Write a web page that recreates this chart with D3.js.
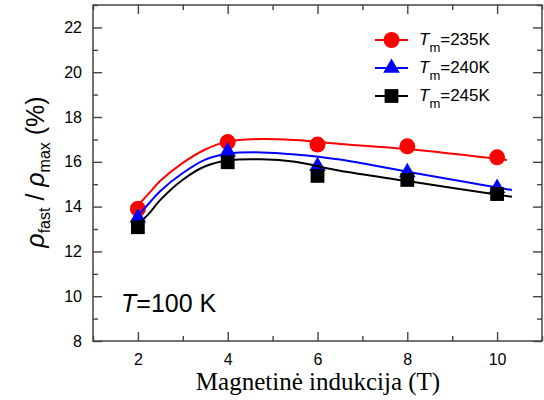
<!DOCTYPE html>
<html>
<head>
<meta charset="utf-8">
<script src="https://cdn.jsdelivr.net/npm/d3@7"></script>
<style>
  html, body { margin: 0; padding: 0; background: #fff; }
  svg { display: block; }
  text { font-family: "Liberation Sans", Arial, sans-serif; fill: #000; }
</style>
</head>
<body>
<svg id="chart" width="544" height="400"></svg>
<script>
// Measured points: field (T) vs fast-component share (%)
const fields = [2, 4, 6, 8, 10];
const rho235 = [13.9, 16.88, 16.77, 16.69, 16.2];
const rho240 = [13.5, 16.45, 15.8, 15.53, 14.82];
const rho245 = [13.08, 15.98, 15.37, 15.19, 14.56];

// Fitted curves, sampled along the field axis
const fit235B = [2, 2.25, 2.5, 3, 3.5, 4, 4.75, 5.5, 6.5, 8, 10.22];
const fit235 = [14.05, 14.6, 15.15, 15.95, 16.55, 16.9, 17.02, 16.97, 16.8, 16.57, 16.08];
const fit240B = [2, 2.25, 2.5, 3, 3.5, 4, 4.75, 5.5, 6.5, 8, 10.33];
const fit240 = [13.6, 14.15, 14.7, 15.5, 16.1, 16.36, 16.42, 16.33, 16.1, 15.56, 14.74];
const fit245B = [2, 2.25, 2.5, 3, 3.5, 4, 4.75, 5.5, 6.5, 8, 10.33];
const fit245 = [13.2, 13.7, 14.3, 15.2, 15.8, 16.06, 16.11, 16.0, 15.6, 15.14, 14.44];

const seriesNames = ["235K", "240K", "245K"];
const xMajor = [2, 4, 6, 8, 10];
const xMinor = [1, 3, 5, 7, 9, 11];
const yMajor = [8, 10, 12, 14, 16, 18, 20, 22];
const yMinor = [9, 11, 13, 15, 17, 19, 21, 23];

const svg = d3.select("#chart");
const x = d3.scaleLinear().domain([1, 11]).range([93, 542]);
const y = d3.scaleLinear().domain([8, 23]).range([341, 5]);

const axisColor = "#444";

function styleAxis(g) {
  g.select(".domain").remove();
  g.selectAll(".tick line").attr("stroke", axisColor).attr("stroke-width", 1.4);
  g.selectAll(".tick text").style("font-size", "16px").attr("fill", "#000");
}

// bottom
svg.append("g").attr("transform", `translate(0,${y(8)})`)
  .call(d3.axisBottom(x).tickValues(xMajor).tickSize(-9).tickPadding(13).tickFormat(d3.format("d")))
  .call(styleAxis);
svg.append("g").attr("transform", `translate(0,${y(8)})`)
  .call(d3.axisBottom(x).tickValues(xMinor).tickSize(-5).tickFormat(""))
  .call(styleAxis);
// top
svg.append("g").attr("transform", `translate(0,${y(23)})`)
  .call(d3.axisTop(x).tickValues(xMajor).tickSize(-9).tickFormat(""))
  .call(styleAxis);
svg.append("g").attr("transform", `translate(0,${y(23)})`)
  .call(d3.axisTop(x).tickValues(xMinor).tickSize(-5).tickFormat(""))
  .call(styleAxis);
// left
svg.append("g").attr("transform", `translate(${x(1)},0)`)
  .call(d3.axisLeft(y).tickValues(yMajor).tickSize(-9).tickPadding(11).tickFormat(d3.format("d")))
  .call(styleAxis);
svg.append("g").attr("transform", `translate(${x(1)},0)`)
  .call(d3.axisLeft(y).tickValues(yMinor).tickSize(-5).tickFormat(""))
  .call(styleAxis);
// right
svg.append("g").attr("transform", `translate(${x(11)},0)`)
  .call(d3.axisRight(y).tickValues(yMajor).tickSize(-9).tickFormat(""))
  .call(styleAxis);
svg.append("g").attr("transform", `translate(${x(11)},0)`)
  .call(d3.axisRight(y).tickValues(yMinor).tickSize(-5).tickFormat(""))
  .call(styleAxis);

// frame
svg.append("rect")
  .attr("x", x(1)).attr("y", y(23))
  .attr("width", x(11) - x(1)).attr("height", y(8) - y(23))
  .attr("fill", "none").attr("stroke", axisColor).attr("stroke-width", 1.5);

const series = [
  { name: seriesNames[0], color: "#ff0000", sym: d3.symbolCircle, size: 200, vals: rho235, fx: fit235B, fy: fit235 },
  { name: seriesNames[1], color: "#0000ff", sym: d3.symbolTriangle, size: 120, vals: rho240, fx: fit240B, fy: fit240 },
  { name: seriesNames[2], color: "#000000", sym: d3.symbolSquare, size: 190, vals: rho245, fx: fit245B, fy: fit245 }
];

const line = d3.line()
  .x(d => x(d[0])).y(d => y(d[1]))
  .curve(d3.curveCatmullRom.alpha(0.5));

series.forEach(s => {
  svg.append("path")
    .datum(d3.zip(s.fx, s.fy))
    .attr("d", line)
    .attr("fill", "none")
    .attr("stroke", s.color)
    .attr("stroke-width", 2);
  svg.append("g").selectAll("path")
    .data(d3.zip(fields, s.vals))
    .join("path")
    .attr("transform", d => `translate(${x(d[0])},${y(d[1])})`)
    .attr("d", d3.symbol(s.sym, s.size))
    .attr("fill", s.color);
});

// legend
const legend = svg.append("g");
series.forEach((s, i) => {
  const cy = 40 + i * 28;
  legend.append("line")
    .attr("x1", 375).attr("x2", 408).attr("y1", cy).attr("y2", cy)
    .attr("stroke", s.color).attr("stroke-width", 2);
  legend.append("path")
    .attr("transform", `translate(391.5,${cy})`)
    .attr("d", d3.symbol(s.sym, s.size))
    .attr("fill", s.color);
  const t = legend.append("text")
    .attr("x", 419).attr("y", cy + 4.5)
    .style("font-size", "17px");
  t.append("tspan").text("T").style("font-style", "italic");
  t.append("tspan").text("m").attr("dy", 7).style("font-size", "13px");
  t.append("tspan").text("=" + s.name).attr("dy", -7);
});

// temperature annotation
const ann = svg.append("text")
  .attr("x", 121).attr("y", 312)
  .style("font-size", "25px");
ann.append("tspan").text("T").style("font-style", "italic");
ann.append("tspan").text("=100 K");

// x axis title
svg.append("text")
  .attr("x", 318).attr("y", 390)
  .attr("text-anchor", "middle")
  .style("font-family", "'Liberation Serif', 'Times New Roman', serif")
  .style("font-size", "25px")
  .text("Magnetinė indukcija (T)");

// y axis title
const yt = svg.append("text")
  .attr("transform", "translate(44,172) rotate(-90)")
  .attr("text-anchor", "middle")
  .style("font-size", "25px");
yt.append("tspan").text("ρ").style("font-style", "italic");
yt.append("tspan").text("fast").attr("dy", 6).style("font-size", "16px");
yt.append("tspan").text(" / ").attr("dy", -6);
yt.append("tspan").text("ρ").style("font-style", "italic");
yt.append("tspan").text("max").attr("dy", 6).style("font-size", "16px");
yt.append("tspan").text(" (%)").attr("dy", -6);
</script>
</body>
</html>
